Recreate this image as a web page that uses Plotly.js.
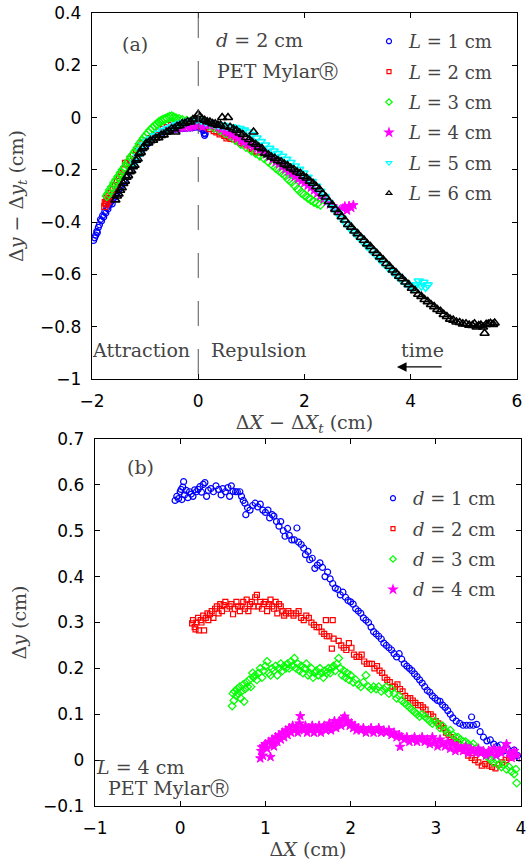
<!DOCTYPE html>
<html><head><meta charset="utf-8">
<script src="https://cdn.plot.ly/plotly-3.0.1.min.js"></script>
<style>html,body{margin:0;padding:0;background:#fff}#plot{width:531px;height:861px}</style>
</head><body><div id="plot"></div>
<script>
// ---- panel (a): Δy − Δy_t vs ΔX − ΔX_t, d = 2 cm ----
const topNames = ['<i>L</i> = 1 cm','<i>L</i> = 2 cm','<i>L</i> = 3 cm','<i>L</i> = 4 cm','<i>L</i> = 5 cm','<i>L</i> = 6 cm'];
const topL1 = [[-1.97,-0.47],[-1.95,-0.46],[-1.93,-0.45],[-1.91,-0.435],[-1.9,-0.44],[-1.88,-0.42],[-1.86,-0.41],[-1.84,-0.39],[-1.82,-0.395],[-1.8,-0.375],[-1.78,-0.38],[-1.76,-0.36],[-1.74,-0.365],[-1.72,-0.345],[-1.7,-0.35],[-1.68,-0.335],[-1.66,-0.327],[-1.64,-0.32],[-1.62,-0.33],[-1.6,-0.31],[-1.58,-0.305],[-1.56,-0.3],[-1.53,-0.29],[-1.5,-0.28],[-1.47,-0.27],[-1.44,-0.26],[-1.4,-0.245],[-1.35,-0.225],[-1.3,-0.205],[-1.25,-0.185],[-1.2,-0.165],[-1.15,-0.15],[-1.1,-0.135],[-1.05,-0.12],[-1.0,-0.11],[-0.95,-0.1],[-0.9,-0.09],[-0.85,-0.08],[-0.8,-0.072],[-0.75,-0.065],[-0.7,-0.06],[-0.65,-0.055],[-0.6,-0.05],[-0.55,-0.048],[-0.5,-0.046],[-0.45,-0.045],[-0.4,-0.044],[-0.35,-0.043],[-0.3,-0.042],[-0.25,-0.041],[-0.2,-0.04],[-0.15,-0.04],[-0.1,-0.038],[-0.05,-0.037],[0.0,-0.035],[0.03,-0.04],[0.06,-0.038],[0.08,-0.045],[0.1,-0.05],[0.11,-0.06],[0.12,-0.068],[0.13,-0.062]];
const topL2 = [[-1.76,-0.34],[-1.75,-0.325],[-1.73,-0.33],[-1.72,-0.31],[-1.7,-0.32],[-1.68,-0.3],[-1.66,-0.31],[-1.64,-0.29],[-1.6,-0.275],[-1.56,-0.26],[-1.52,-0.245],[-1.48,-0.23],[-1.44,-0.215],[-1.4,-0.2],[-1.37,-0.175],[-1.33,-0.175],[-1.28,-0.16],[-1.22,-0.145],[-1.16,-0.13],[-1.1,-0.115],[-1.04,-0.1],[-0.98,-0.09],[-0.9,-0.08],[-0.82,-0.068],[-0.74,-0.055],[-0.66,-0.045],[-0.58,-0.038],[-0.5,-0.03],[-0.42,-0.025],[-0.34,-0.022],[-0.26,-0.02],[-0.18,-0.02],[-0.1,-0.022],[-0.02,-0.025],[0.06,-0.03],[0.14,-0.035],[0.22,-0.042],[0.3,-0.05],[0.35,-0.055],[0.41,-0.062],[0.45,-0.058],[0.5,-0.068],[0.54,-0.078],[0.58,-0.072],[0.62,-0.08],[0.68,-0.082],[0.74,-0.088],[0.8,-0.095],[0.86,-0.1],[0.92,-0.105],[0.98,-0.112],[1.02,-0.118],[1.06,-0.125],[1.1,-0.132],[1.12,-0.128]];
const topL3 = [[-1.72,-0.3],[-1.69,-0.29],[-1.66,-0.277],[-1.62,-0.265],[-1.58,-0.25],[-1.54,-0.238],[-1.5,-0.225],[-1.46,-0.212],[-1.42,-0.2],[-1.38,-0.19],[-1.34,-0.175],[-1.3,-0.165],[-1.26,-0.15],[-1.22,-0.14],[-1.18,-0.128],[-1.14,-0.115],[-1.1,-0.1],[-1.06,-0.09],[-1.02,-0.078],[-0.98,-0.068],[-0.94,-0.058],[-0.9,-0.048],[-0.86,-0.04],[-0.82,-0.032],[-0.78,-0.025],[-0.74,-0.018],[-0.7,-0.013],[-0.66,-0.008],[-0.62,-0.005],[-0.58,-0.002],[-0.54,0.002],[-0.5,0.004],[-0.46,0.0],[-0.42,-0.003],[-0.36,-0.006],[-0.3,-0.01],[-0.22,-0.013],[-0.14,-0.016],[-0.06,-0.018],[0.02,-0.02],[0.1,-0.025],[0.2,-0.03],[0.3,-0.038],[0.4,-0.047],[0.5,-0.058],[0.6,-0.07],[0.7,-0.085],[0.8,-0.1],[0.9,-0.112],[1.0,-0.125],[1.08,-0.135],[1.16,-0.145],[1.24,-0.155],[1.32,-0.168],[1.4,-0.182],[1.46,-0.192],[1.52,-0.202],[1.58,-0.212],[1.64,-0.222],[1.7,-0.236],[1.76,-0.246],[1.82,-0.26],[1.88,-0.274],[1.94,-0.287],[2.0,-0.296],[2.06,-0.306],[2.12,-0.314],[2.18,-0.322],[2.24,-0.328],[2.3,-0.333]];
const topL4 = [[-0.52,-0.042],[-0.46,-0.04],[-0.4,-0.042],[-0.34,-0.038],[-0.28,-0.04],[-0.22,-0.036],[-0.16,-0.038],[-0.1,-0.034],[-0.04,-0.032],[0.02,-0.03],[0.08,-0.035],[0.14,-0.03],[0.2,-0.028],[0.26,-0.025],[0.32,-0.03],[0.38,-0.038],[0.44,-0.045],[0.5,-0.052],[0.56,-0.058],[0.62,-0.065],[0.68,-0.072],[0.74,-0.08],[0.8,-0.088],[0.86,-0.095],[0.92,-0.1],[0.98,-0.106],[1.04,-0.112],[1.1,-0.118],[1.16,-0.125],[1.22,-0.13],[1.28,-0.14],[1.34,-0.15],[1.4,-0.16],[1.46,-0.17],[1.52,-0.178],[1.58,-0.188],[1.64,-0.198],[1.7,-0.207],[1.76,-0.217],[1.82,-0.226],[1.88,-0.235],[1.94,-0.243],[2.0,-0.25],[2.06,-0.26],[2.12,-0.268],[2.18,-0.278],[2.24,-0.29],[2.3,-0.3],[2.36,-0.312],[2.42,-0.322],[2.48,-0.332],[2.54,-0.34],[2.6,-0.35],[2.66,-0.355],[2.72,-0.348],[2.76,-0.34],[2.8,-0.355],[2.84,-0.338],[2.88,-0.345],[2.92,-0.335]];
const topL5 = [[-1.2,-0.175],[-1.14,-0.15],[-1.08,-0.125],[-1.02,-0.105],[-0.96,-0.092],[-0.9,-0.082],[-0.82,-0.07],[-0.74,-0.06],[-0.66,-0.05],[-0.58,-0.042],[-0.5,-0.035],[-0.42,-0.028],[-0.34,-0.022],[-0.26,-0.018],[-0.18,-0.013],[-0.1,-0.01],[-0.02,-0.006],[0.06,-0.01],[0.14,-0.016],[0.22,-0.02],[0.3,-0.025],[0.38,-0.028],[0.46,-0.03],[0.54,-0.032],[0.62,-0.035],[0.7,-0.038],[0.78,-0.042],[0.86,-0.048],[0.94,-0.055],[1.02,-0.065],[1.1,-0.078],[1.18,-0.092],[1.26,-0.105],[1.34,-0.118],[1.42,-0.128],[1.5,-0.138],[1.58,-0.148],[1.66,-0.16],[1.74,-0.172],[1.82,-0.185],[1.9,-0.198],[1.98,-0.212],[2.06,-0.228],[2.14,-0.245],[2.22,-0.262],[2.3,-0.282],[2.38,-0.302],[2.46,-0.325],[2.54,-0.345],[2.62,-0.365],[2.7,-0.385],[2.78,-0.405],[2.86,-0.425],[2.94,-0.44],[3.02,-0.458],[3.1,-0.475],[3.18,-0.492],[3.26,-0.508],[3.34,-0.525],[3.42,-0.542],[3.5,-0.558],[3.58,-0.575],[3.66,-0.59],[3.74,-0.605],[3.82,-0.62],[3.9,-0.632],[3.98,-0.645],[4.05,-0.65],[4.1,-0.64],[4.15,-0.625],[4.2,-0.645],[4.24,-0.63],[4.28,-0.65],[4.32,-0.64]];
const topL6 = [[-1.56,-0.315],[-1.53,-0.3],[-1.5,-0.292],[-1.47,-0.278],[-1.44,-0.268],[-1.41,-0.252],[-1.38,-0.243],[-1.35,-0.228],[-1.32,-0.222],[-1.29,-0.207],[-1.26,-0.203],[-1.23,-0.188],[-1.2,-0.182],[-1.17,-0.163],[-1.14,-0.158],[-1.11,-0.138],[-1.08,-0.133],[-1.05,-0.118],[-1.02,-0.112],[-0.98,-0.098],[-0.94,-0.097],[-0.9,-0.088],[-0.85,-0.087],[-0.8,-0.078],[-0.75,-0.077],[-0.7,-0.068],[-0.65,-0.066],[-0.6,-0.056],[-0.55,-0.052],[-0.5,-0.043],[-0.45,-0.042],[-0.43,-0.055],[-0.4,-0.033],[-0.35,-0.031],[-0.3,-0.023],[-0.25,-0.022],[-0.2,-0.016],[-0.15,-0.017],[-0.1,-0.008],[-0.05,-0.006],[0.0,0.012],[0.03,0.002],[0.07,-0.006],[0.12,-0.01],[0.17,-0.016],[0.22,-0.017],[0.27,-0.023],[0.32,-0.024],[0.37,-0.029],[0.42,-0.029],[0.45,0.0],[0.5,-0.034],[0.56,0.0],[0.6,-0.037],[0.66,-0.044],[0.72,-0.049],[0.78,-0.059],[0.84,-0.065],[0.9,-0.076],[0.96,-0.084],[1.02,-0.096],[1.04,-0.055],[1.08,-0.102],[1.14,-0.113],[1.2,-0.119],[1.26,-0.136],[1.32,-0.142],[1.38,-0.151],[1.44,-0.156],[1.5,-0.164],[1.56,-0.169],[1.62,-0.178],[1.68,-0.184],[1.74,-0.193],[1.8,-0.199],[1.86,-0.208],[1.92,-0.213],[1.98,-0.224],[2.04,-0.231],[2.1,-0.243],[2.16,-0.251],[2.22,-0.264],[2.28,-0.274],[2.34,-0.291],[2.4,-0.304],[2.46,-0.321],[2.52,-0.334],[2.58,-0.351],[2.64,-0.363],[2.7,-0.379],[2.76,-0.392],[2.82,-0.409],[2.88,-0.419],[2.94,-0.434],[3.0,-0.444],[3.06,-0.458],[3.12,-0.469],[3.18,-0.483],[3.24,-0.493],[3.3,-0.508],[3.36,-0.519],[3.42,-0.533],[3.48,-0.544],[3.54,-0.558],[3.6,-0.569],[3.66,-0.583],[3.72,-0.593],[3.78,-0.607],[3.84,-0.616],[3.9,-0.629],[3.96,-0.639],[4.02,-0.653],[4.08,-0.662],[4.14,-0.676],[4.2,-0.684],[4.26,-0.696],[4.32,-0.704],[4.38,-0.715],[4.44,-0.723],[4.5,-0.734],[4.56,-0.741],[4.62,-0.753],[4.68,-0.761],[4.74,-0.771],[4.8,-0.775],[4.86,-0.782],[4.92,-0.784],[4.98,-0.789],[5.04,-0.789],[5.1,-0.794],[5.16,-0.795],[5.2,-0.789],[5.24,-0.801],[5.28,-0.796],[5.32,-0.794],[5.36,-0.801],[5.39,-0.825],[5.42,-0.791],[5.46,-0.79],[5.5,-0.787],[5.55,-0.791],[5.58,-0.786]];

// ---- panel (b): Δy vs ΔX, L = 4 cm ----
const botNames = ['<i>d</i> = 1 cm','<i>d</i> = 2 cm','<i>d</i> = 3 cm','<i>d</i> = 4 cm'];
const botD1 = [[-0.06,0.566],[-0.04,0.575],[-0.02,0.57],[0.0,0.585],[0.01,0.59],[0.02,0.568],[0.03,0.595],[0.04,0.607],[0.05,0.578],[0.07,0.588],[0.09,0.572],[0.11,0.585],[0.13,0.58],[0.15,0.575],[0.17,0.589],[0.19,0.585],[0.21,0.59],[0.23,0.596],[0.25,0.584],[0.27,0.601],[0.29,0.605],[0.31,0.575],[0.33,0.588],[0.36,0.592],[0.39,0.585],[0.42,0.598],[0.45,0.59],[0.48,0.578],[0.5,0.592],[0.53,0.585],[0.56,0.594],[0.58,0.575],[0.6,0.598],[0.62,0.586],[0.65,0.585],[0.67,0.585],[0.7,0.585],[0.72,0.575],[0.74,0.566],[0.76,0.56],[0.77,0.535],[0.79,0.55],[0.82,0.545],[0.85,0.555],[0.88,0.56],[0.91,0.552],[0.94,0.558],[0.97,0.545],[1.0,0.54],[1.03,0.545],[1.05,0.528],[1.08,0.535],[1.1,0.532],[1.13,0.52],[1.16,0.51],[1.18,0.52],[1.21,0.5],[1.23,0.488],[1.26,0.505],[1.28,0.49],[1.31,0.48],[1.34,0.48],[1.37,0.506],[1.39,0.475],[1.42,0.47],[1.45,0.462],[1.47,0.448],[1.5,0.455],[1.52,0.437],[1.55,0.44],[1.58,0.418],[1.61,0.425],[1.64,0.43],[1.67,0.42],[1.7,0.4],[1.73,0.41],[1.76,0.395],[1.79,0.385],[1.82,0.375],[1.85,0.372],[1.88,0.36],[1.91,0.366],[1.94,0.355],[1.97,0.348],[2.0,0.345],[2.03,0.34],[2.06,0.33],[2.09,0.325],[2.12,0.32],[2.15,0.31],[2.18,0.305],[2.21,0.3],[2.24,0.29],[2.27,0.28],[2.3,0.275],[2.33,0.27],[2.36,0.264],[2.39,0.255],[2.42,0.25],[2.45,0.245],[2.48,0.24],[2.51,0.232],[2.54,0.225],[2.57,0.232],[2.6,0.22],[2.63,0.21],[2.66,0.205],[2.69,0.2],[2.72,0.195],[2.75,0.188],[2.78,0.182],[2.81,0.175],[2.84,0.168],[2.87,0.16],[2.9,0.152],[2.93,0.148],[2.96,0.14],[2.99,0.135],[3.02,0.13],[3.05,0.128],[3.08,0.12],[3.11,0.115],[3.14,0.108],[3.17,0.1],[3.2,0.092],[3.24,0.085],[3.28,0.08],[3.32,0.076],[3.36,0.076],[3.4,0.076],[3.42,0.094],[3.44,0.076],[3.48,0.078],[3.52,0.062],[3.56,0.05],[3.6,0.042],[3.64,0.044],[3.68,0.035],[3.72,0.03],[3.76,0.033],[3.8,0.02],[3.84,0.025],[3.88,0.015],[3.92,0.022],[3.96,0.01],[3.98,0.005]];
const botD2 = [[0.14,0.298],[0.15,0.305],[0.17,0.29],[0.18,0.285],[0.19,0.3],[0.21,0.31],[0.22,0.283],[0.24,0.305],[0.25,0.3],[0.27,0.315],[0.28,0.283],[0.3,0.31],[0.32,0.32],[0.33,0.305],[0.35,0.318],[0.37,0.325],[0.39,0.31],[0.41,0.33],[0.43,0.335],[0.45,0.32],[0.47,0.34],[0.49,0.325],[0.51,0.338],[0.53,0.345],[0.55,0.33],[0.58,0.335],[0.6,0.34],[0.62,0.318],[0.64,0.33],[0.66,0.345],[0.68,0.335],[0.7,0.325],[0.72,0.335],[0.74,0.345],[0.76,0.33],[0.78,0.35],[0.8,0.325],[0.82,0.34],[0.84,0.345],[0.86,0.335],[0.88,0.355],[0.9,0.36],[0.92,0.335],[0.94,0.345],[0.96,0.33],[0.98,0.34],[1.0,0.345],[1.02,0.325],[1.04,0.34],[1.06,0.35],[1.08,0.335],[1.1,0.33],[1.12,0.345],[1.14,0.32],[1.16,0.34],[1.18,0.335],[1.2,0.325],[1.22,0.315],[1.24,0.32],[1.27,0.325],[1.3,0.32],[1.33,0.315],[1.36,0.32],[1.39,0.325],[1.42,0.31],[1.45,0.305],[1.48,0.315],[1.51,0.31],[1.54,0.3],[1.57,0.295],[1.6,0.29],[1.63,0.29],[1.66,0.28],[1.69,0.275],[1.71,0.305],[1.72,0.27],[1.75,0.27],[1.78,0.243],[1.79,0.305],[1.8,0.265],[1.86,0.26],[1.89,0.25],[1.92,0.245],[1.95,0.24],[1.98,0.255],[2.01,0.245],[2.04,0.23],[2.07,0.225],[2.1,0.225],[2.13,0.23],[2.16,0.215],[2.19,0.21],[2.22,0.21],[2.25,0.21],[2.28,0.2],[2.31,0.205],[2.34,0.195],[2.37,0.19],[2.4,0.18],[2.43,0.175],[2.46,0.17],[2.49,0.16],[2.52,0.16],[2.55,0.165],[2.58,0.155],[2.61,0.15],[2.64,0.14],[2.67,0.135],[2.7,0.135],[2.73,0.13],[2.76,0.125],[2.79,0.12],[2.82,0.12],[2.85,0.115],[2.88,0.11],[2.91,0.1],[2.94,0.1],[2.97,0.095],[3.0,0.085],[3.03,0.08],[3.06,0.075],[3.09,0.07],[3.12,0.06],[3.15,0.055],[3.18,0.05],[3.21,0.045],[3.24,0.04],[3.27,0.035],[3.3,0.025],[3.34,0.02],[3.38,0.01],[3.42,0.005],[3.46,0.0],[3.5,-0.005],[3.54,-0.012],[3.58,-0.008],[3.62,-0.012],[3.66,-0.015],[3.7,-0.018],[3.74,-0.01],[3.78,-0.005],[3.82,0.0],[3.86,0.005],[3.9,0.008]];
const botD3 = [[0.61,0.118],[0.62,0.145],[0.63,0.13],[0.64,0.15],[0.66,0.14],[0.67,0.155],[0.68,0.145],[0.7,0.16],[0.71,0.135],[0.72,0.15],[0.74,0.165],[0.75,0.128],[0.76,0.155],[0.78,0.17],[0.79,0.16],[0.81,0.175],[0.83,0.16],[0.85,0.19],[0.86,0.18],[0.88,0.185],[0.9,0.175],[0.92,0.19],[0.94,0.2],[0.96,0.18],[0.98,0.195],[1.0,0.205],[1.02,0.215],[1.04,0.19],[1.06,0.185],[1.08,0.2],[1.1,0.195],[1.12,0.205],[1.14,0.185],[1.16,0.2],[1.18,0.21],[1.2,0.195],[1.22,0.205],[1.24,0.2],[1.26,0.21],[1.28,0.2],[1.3,0.215],[1.32,0.205],[1.34,0.222],[1.36,0.2],[1.38,0.21],[1.4,0.195],[1.42,0.205],[1.44,0.19],[1.46,0.2],[1.48,0.21],[1.5,0.185],[1.52,0.19],[1.54,0.2],[1.56,0.18],[1.58,0.19],[1.6,0.195],[1.62,0.185],[1.64,0.2],[1.66,0.19],[1.68,0.18],[1.7,0.195],[1.72,0.19],[1.74,0.2],[1.76,0.19],[1.78,0.2],[1.8,0.205],[1.82,0.195],[1.84,0.21],[1.86,0.222],[1.88,0.2],[1.9,0.185],[1.92,0.195],[1.94,0.18],[1.96,0.19],[1.98,0.175],[2.0,0.185],[2.03,0.17],[2.06,0.175],[2.09,0.165],[2.12,0.16],[2.15,0.17],[2.18,0.185],[2.21,0.16],[2.24,0.155],[2.27,0.16],[2.3,0.155],[2.33,0.16],[2.36,0.15],[2.39,0.155],[2.42,0.16],[2.45,0.145],[2.48,0.155],[2.51,0.145],[2.54,0.135],[2.57,0.14],[2.6,0.13],[2.63,0.125],[2.66,0.12],[2.69,0.115],[2.72,0.11],[2.75,0.105],[2.78,0.1],[2.81,0.095],[2.84,0.1],[2.87,0.095],[2.9,0.09],[2.93,0.085],[2.96,0.08],[2.99,0.085],[3.02,0.08],[3.05,0.07],[3.08,0.075],[3.11,0.065],[3.14,0.06],[3.17,0.065],[3.2,0.055],[3.23,0.05],[3.26,0.05],[3.29,0.045],[3.32,0.04],[3.35,0.04],[3.38,0.035],[3.41,0.03],[3.44,0.035],[3.47,0.025],[3.5,0.02],[3.53,0.02],[3.56,0.015],[3.59,0.01],[3.62,0.005],[3.65,0.0],[3.68,-0.005],[3.71,0.0],[3.74,-0.01],[3.77,-0.015],[3.8,-0.01],[3.83,-0.02],[3.86,-0.015],[3.89,-0.025],[3.92,-0.03],[3.94,-0.02],[3.95,-0.05]];
const botD4 = [[0.94,0.004],[0.95,0.02],[0.96,0.028],[0.97,0.01],[0.98,0.03],[1.0,0.035],[1.02,0.025],[1.04,0.04],[1.06,0.007],[1.07,0.036],[1.08,0.045],[1.1,0.03],[1.12,0.05],[1.14,0.04],[1.16,0.055],[1.18,0.045],[1.2,0.06],[1.22,0.05],[1.24,0.065],[1.26,0.055],[1.28,0.07],[1.3,0.06],[1.32,0.075],[1.34,0.065],[1.36,0.07],[1.38,0.06],[1.4,0.08],[1.41,0.096],[1.43,0.07],[1.45,0.065],[1.47,0.075],[1.49,0.06],[1.51,0.07],[1.53,0.065],[1.55,0.075],[1.57,0.06],[1.59,0.07],[1.61,0.065],[1.63,0.075],[1.65,0.06],[1.67,0.07],[1.69,0.075],[1.71,0.065],[1.73,0.07],[1.75,0.08],[1.77,0.065],[1.79,0.075],[1.81,0.085],[1.83,0.07],[1.85,0.08],[1.87,0.085],[1.89,0.075],[1.91,0.09],[1.93,0.095],[1.95,0.08],[1.97,0.085],[1.99,0.075],[2.01,0.08],[2.03,0.07],[2.05,0.075],[2.07,0.065],[2.09,0.07],[2.12,0.065],[2.15,0.07],[2.18,0.06],[2.21,0.065],[2.24,0.07],[2.27,0.06],[2.3,0.065],[2.33,0.07],[2.36,0.06],[2.39,0.065],[2.42,0.06],[2.45,0.065],[2.48,0.055],[2.51,0.06],[2.54,0.05],[2.57,0.055],[2.58,0.029],[2.6,0.05],[2.63,0.045],[2.66,0.05],[2.69,0.04],[2.72,0.045],[2.75,0.05],[2.78,0.04],[2.81,0.045],[2.84,0.05],[2.87,0.04],[2.9,0.045],[2.93,0.035],[2.96,0.05],[2.99,0.04],[3.02,0.03],[3.05,0.045],[3.08,0.035],[3.11,0.03],[3.14,0.04],[3.17,0.025],[3.2,0.035],[3.23,0.02],[3.26,0.03],[3.29,0.025],[3.32,0.02],[3.35,0.03],[3.38,0.015],[3.41,0.025],[3.44,0.02],[3.47,0.015],[3.5,0.025],[3.53,0.015],[3.56,0.02],[3.59,0.01],[3.62,0.02],[3.65,0.015],[3.68,0.025],[3.71,0.01],[3.74,0.02],[3.77,0.015],[3.8,0.025],[3.83,0.035],[3.86,0.015],[3.89,0.005],[3.92,0.02],[3.95,0.01]];

const W = 531, H = 861;
const px = v => v / W, py = v => 1 - v / H;
const serif = 'DejaVu Serif, Liberation Serif, serif';
const grey = '#444';

// data trace (no legend entry)
function tr(pairs, sym, color, size, lw, xa, ya) {
  return {
    x: pairs.map(p => p[0]), y: pairs.map(p => p[1]),
    type: 'scatter', mode: 'markers', showlegend: false, xaxis: xa, yaxis: ya,
    marker: {symbol: sym, color: color, size: size, line: {color: color, width: lw}}
  };
}
// legend-only entry (small key marker, as in the reference legend)
function key(name, sym, color, size, xa, ya, leg) {
  return {
    x: [null], y: [null], type: 'scatter', mode: 'markers', name: name, legend: leg,
    legendgroup: name, xaxis: xa, yaxis: ya,
    marker: {symbol: sym, color: color, size: size, line: {color: color, width: 1.2}}
  };
}

const BLUE = '#0000ff', RED = '#ff0000', GREEN = '#00ff00', MAG = '#ff00ff', CYAN = '#00ffff', BLACK = '#000000';

const data = [
  tr(topL1, 'circle-open', BLUE, 6, 1.2, 'x', 'y'),
  tr(topL2, 'square-open', RED, 6, 1.2, 'x', 'y'),
  tr(topL3, 'diamond-open', GREEN, 7, 1.3, 'x', 'y'),
  tr(topL4, 'star', MAG, 7, 1, 'x', 'y'),
  tr(topL5, 'triangle-down-open', CYAN, 8, 1.6, 'x', 'y'),
  tr(topL6, 'triangle-up-open', BLACK, 8, 1.6, 'x', 'y'),
  tr(botD1, 'circle-open', BLUE, 6, 1.2, 'x2', 'y2'),
  tr(botD2, 'square-open', RED, 5, 1.2, 'x2', 'y2'),
  tr(botD3, 'diamond-open', GREEN, 6, 1.2, 'x2', 'y2'),
  tr(botD4, 'star', MAG, 7, 1, 'x2', 'y2'),
  key(topNames[0], 'circle-open', BLUE, 5, 'x', 'y', 'legend'),
  key(topNames[1], 'square-open', RED, 4, 'x', 'y', 'legend'),
  key(topNames[2], 'diamond-open', GREEN, 5, 'x', 'y', 'legend'),
  key(topNames[3], 'star', MAG, 6, 'x', 'y', 'legend'),
  key(topNames[4], 'triangle-down-open', CYAN, 5, 'x', 'y', 'legend'),
  key(topNames[5], 'triangle-up-open', BLACK, 5, 'x', 'y', 'legend'),
  key(botNames[0], 'circle-open', BLUE, 5, 'x2', 'y2', 'legend2'),
  key(botNames[1], 'square-open', RED, 4, 'x2', 'y2', 'legend2'),
  key(botNames[2], 'diamond-open', GREEN, 5, 'x2', 'y2', 'legend2'),
  key(botNames[3], 'star', MAG, 6, 'x2', 'y2', 'legend2')
];

const axBase = {
  showline: true, linecolor: '#000', linewidth: 1.3, mirror: 'ticks',
  ticks: 'inside', ticklen: 5, tickwidth: 1, tickcolor: '#000',
  showgrid: false, zeroline: false, automargin: false, fixedrange: true,
  tickfont: {family: 'DejaVu Sans, Liberation Sans, sans-serif', size: 17, color: '#000'},
  ticklabelstandoff: 6
};
const ttl = (text, standoff) => ({text: text, font: {family: serif, size: 19, color: grey}, standoff: standoff});

const legBase = {
  bgcolor: 'rgba(0,0,0,0)', borderwidth: 0, xanchor: 'left', yanchor: 'top',
  font: {family: serif, size: 18, color: grey}, tracegroupgap: 4, itemwidth: 30
};

function ann(text, x, y, size) {
  return {text: text, xref: 'paper', yref: 'paper', x: px(x), y: py(y), xanchor: 'center', yanchor: 'middle',
          showarrow: false, font: {family: serif, size: size || 19, color: grey}};
}

const layout = {
  width: W, height: H, margin: {l: 0, r: 0, t: 0, b: 0},
  paper_bgcolor: '#fff', plot_bgcolor: '#fff', showlegend: true,
  xaxis: Object.assign({}, axBase, {domain: [px(92), px(517)], range: [-2, 6], dtick: 2, tick0: 0, anchor: 'y',
    title: ttl('Δ<i>X</i> − Δ<i>X</i><sub><i>t</i></sub> (cm)', 4)}),
  yaxis: Object.assign({}, axBase, {domain: [py(379), py(13)], range: [-1, 0.4], dtick: 0.2, tick0: 0, anchor: 'x',
    title: ttl('Δ<i>y</i> − Δ<i>y</i><sub><i>t</i></sub> (cm)', 11)}),
  xaxis2: Object.assign({}, axBase, {domain: [px(95), px(521)], range: [-1, 4], dtick: 1, tick0: 0, anchor: 'y2',
    title: ttl('Δ<i>X</i> (cm)', 3)}),
  yaxis2: Object.assign({}, axBase, {domain: [py(806), py(439)], range: [-0.1, 0.7], dtick: 0.1, tick0: 0, anchor: 'x2',
    title: ttl('Δ<i>y</i> (cm)', 11)}),
  legend: Object.assign({}, legBase, {x: px(369), y: py(23)}),
  legend2: Object.assign({}, legBase, {x: px(373), y: py(480)}),
  shapes: [
    {type: 'line', xref: 'x', yref: 'y', x0: 0, x1: 0, y0: 0.4, y1: -1,
     line: {color: '#555', width: 1, dash: '25px,23px'}}
  ],
  annotations: [
    ann('(a)', 135, 44),
    ann('<i>d</i> = 2 cm', 259, 40),
    ann('PET MylarⓇ', 277, 71),
    ann('Attraction', 141, 350),
    ann('Repulsion', 259, 350),
    ann('time', 422, 350),
    {text: '', xref: 'x', yref: 'y', axref: 'x', ayref: 'y', x: 3.74, y: -0.954, ax: 4.61, ay: -0.954,
     showarrow: true, arrowhead: 2, arrowsize: 1.6, arrowwidth: 1.2, arrowcolor: '#000'},
    ann('(b)', 140, 467),
    ann('<i>L</i> = 4 cm', 140, 767),
    ann('PET MylarⓇ', 168, 788)
  ]
};

Plotly.newPlot('plot', data, layout, {staticPlot: true, displayModeBar: false});
</script>
</body></html>
